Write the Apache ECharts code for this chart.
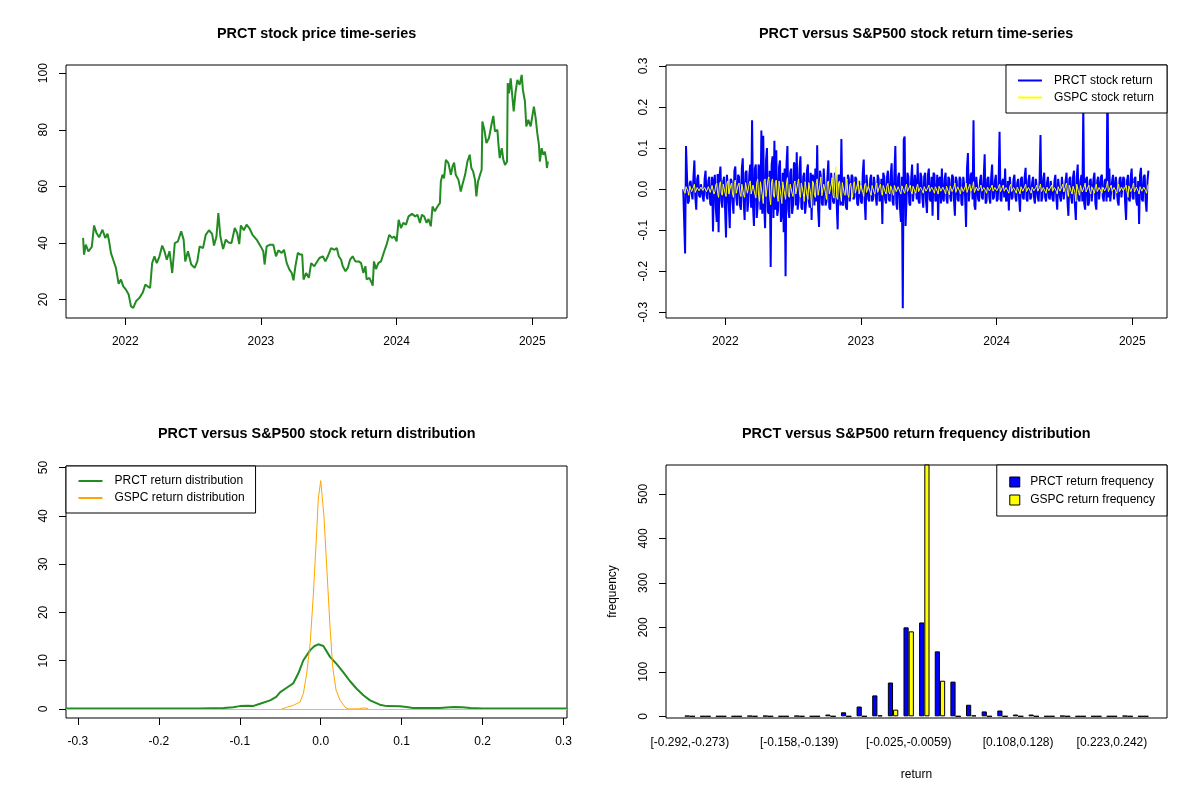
<!DOCTYPE html>
<html>
<head>
<meta charset="utf-8">
<script src="https://cdn.jsdelivr.net/npm/echarts@6/dist/echarts.min.js"></script>
<style>html,body{margin:0;padding:0;background:#fff}#c{width:1200px;height:800px}</style>
</head>
<body>
<div id="c"></div>
<script>
const FONT = '"Liberation Sans", Arial, sans-serif';

// ---------- Panel 1: PRCT price (time in decimal years) ----------
const priceYear = [
2021.689,2021.696,2021.709,2021.728,2021.753,2021.770,2021.788,2021.807,2021.832,2021.852,
2021.869,2021.881,2021.894,2021.911,2021.931,2021.951,2021.968,2021.985,2022.005,2022.025,
2022.042,2022.059,2022.079,2022.104,2022.128,2022.148,2022.165,2022.183,2022.198,2022.215,
2022.232,2022.252,2022.272,2022.289,2022.306,2022.326,2022.346,2022.365,2022.388,2022.412,
2022.430,2022.442,2022.462,2022.486,2022.511,2022.531,2022.548,2022.573,2022.593,2022.617,
2022.640,2022.654,2022.672,2022.686,2022.701,2022.721,2022.741,2022.760,2022.783,2022.807,
2022.825,2022.840,2022.852,2022.874,2022.894,2022.914,2022.938,2022.968,2022.998,2023.017,
2023.027,2023.042,2023.067,2023.091,2023.111,2023.128,2023.153,2023.170,2023.190,2023.210,
2023.227,2023.240,2023.254,2023.272,2023.289,2023.304,2023.314,2023.333,2023.353,2023.370,
2023.393,2023.431,2023.456,2023.475,2023.493,2023.517,2023.542,2023.559,2023.574,2023.591,
2023.603,2023.623,2023.640,2023.657,2023.676,2023.696,2023.721,2023.738,2023.755,2023.770,
2023.779,2023.799,2023.811,2023.824,2023.833,2023.848,2023.865,2023.885,2023.897,2023.909,
2023.926,2023.946,2023.966,2023.983,2024.000,2024.015,2024.032,2024.049,2024.069,2024.088,
2024.113,2024.137,2024.154,2024.172,2024.186,2024.203,2024.221,2024.235,2024.252,2024.265,
2024.282,2024.301,2024.319,2024.326,2024.338,2024.350,2024.363,2024.382,2024.400,2024.412,
2024.424,2024.436,2024.456,2024.473,2024.485,2024.505,2024.522,2024.539,2024.551,2024.564,
2024.578,2024.588,2024.600,2024.615,2024.627,2024.632,2024.647,2024.662,2024.681,2024.699,
2024.713,2024.725,2024.743,2024.750,2024.760,2024.775,2024.787,2024.799,2024.814,2024.819,
2024.828,2024.841,2024.853,2024.863,2024.877,2024.890,2024.907,2024.922,2024.931,2024.946,
2024.956,2024.971,2024.988,2025.000,2025.012,2025.025,2025.037,2025.049,2025.056,2025.069,
2025.081,2025.093,2025.103,2025.108,2025.115];
const priceClose = [
41.8,35.9,39.4,37.0,38.6,46.2,43.5,42.0,44.7,41.8,
43.3,40.6,36.5,34.1,31.2,25.6,27.1,24.7,23.5,21.8,
17.6,17.1,19.4,20.6,22.4,25.3,24.7,24.1,32.9,35.3,
32.9,35.3,39.1,37.1,34.1,37.1,29.4,40.0,40.6,44.1,
41.2,33.5,37.1,32.4,31.2,33.5,38.8,38.2,42.9,44.5,
43.2,39.1,42.3,50.6,42.3,37.9,41.2,40.2,40.0,45.3,
43.5,39.6,46.2,44.5,46.5,45.3,42.9,41.2,38.8,37.1,
32.4,38.8,39.4,39.4,35.3,37.4,36.5,37.6,32.9,30.6,
29.4,26.8,31.8,36.5,35.9,35.9,27.1,29.4,27.7,32.9,
31.8,34.7,35.3,33.5,35.3,38.2,37.6,38.2,35.3,34.1,
31.8,30.0,31.2,34.1,35.3,33.5,33.5,32.9,29.4,31.8,
27.1,27.7,26.5,24.9,33.5,30.8,32.9,33.5,35.3,37.1,
39.4,42.9,41.8,42.3,40.6,48.2,45.3,47.1,46.5,49.4,
50.3,49.4,50.0,47.1,50.0,49.4,47.1,48.5,45.9,52.9,
51.2,52.9,54.1,61.7,64.1,62.9,69.4,68.2,64.1,67.0,
68.4,64.1,62.3,58.2,60.6,64.1,68.8,71.2,66.5,65.3,
62.3,56.5,61.7,64.1,65.9,82.9,80.0,75.3,77.1,81.8,
84.9,79.4,80.0,75.3,70.0,73.5,69.4,67.6,68.8,96.5,
92.9,98.2,98.8,86.5,93.5,97.6,95.9,99.4,94.1,90.0,
81.2,83.5,81.2,84.7,88.2,84.1,78.8,74.7,68.8,73.5,
71.2,72.3,69.4,66.5,68.8];
const yearTicks = [2022, 2023, 2024, 2025];
const priceTicks = [20, 40, 60, 80, 100];

// ---------- Panel 2: returns (observations evenly spread over the period) ----------
const retStartYear = 2021.690, retEndYear = 2025.119;
const prctReturn = [
0.0,0.002,-0.157,0.105,0.108,-0.035,-0.03,0.015,0.02,-0.01,-0.025,0.03,0.07,-0.02,-0.05,0.025,0.035,-0.015,-0.02,0.012,
0.01,-0.02,-0.03,0.025,0.045,-0.015,-0.025,0.02,0.03,-0.035,-0.04,0.03,-0.103,0.02,0.035,-0.045,-0.08,0.037,-0.105,0.03,
0.055,-0.03,-0.045,0.02,0.03,-0.05,-0.118,0.035,0.035,-0.04,-0.095,0.025,0.02,-0.03,-0.06,0.045,0.055,-0.02,-0.04,0.035,
0.03,-0.04,-0.05,0.05,0.075,-0.03,-0.075,0.04,0.045,-0.055,-0.03,0.035,0.06,-0.045,0.168,-0.04,-0.09,0.05,0.06,-0.07,
-0.04,0.06,0.05,-0.05,0.143,-0.06,0.13,-0.04,-0.095,0.07,0.1,-0.055,-0.06,0.045,-0.19,0.06,0.08,-0.07,0.118,-0.05,
0.095,-0.065,-0.05,0.055,0.07,-0.08,-0.06,0.04,-0.105,0.05,-0.212,0.06,0.105,-0.05,-0.07,0.04,0.05,-0.06,-0.04,0.065,
0.06,-0.04,0.09,-0.05,-0.03,0.05,0.08,-0.045,-0.05,0.03,0.04,-0.06,-0.035,0.045,0.06,-0.03,-0.045,0.04,-0.075,0.035,
0.03,-0.04,0.05,-0.03,0.107,-0.05,-0.092,0.045,0.03,-0.035,-0.04,0.05,0.05,-0.04,-0.03,0.03,0.07,-0.045,-0.05,0.04,
0.04,-0.03,-0.035,0.04,0.02,-0.04,-0.098,0.035,0.03,-0.04,0.122,-0.035,-0.04,0.03,0.03,-0.045,-0.05,0.035,0.025,-0.03,
-0.03,0.035,0.03,-0.025,-0.02,0.03,0.025,-0.035,-0.04,0.02,0.02,-0.03,-0.035,0.04,0.072,-0.03,-0.075,0.035,0.035,-0.025,
-0.03,0.025,0.035,-0.03,-0.025,0.03,0.03,-0.02,-0.04,0.035,0.025,-0.03,-0.02,0.025,-0.085,0.04,0.03,-0.025,-0.035,0.03,
0.045,-0.025,-0.03,0.035,0.063,-0.03,-0.04,0.04,0.105,-0.035,-0.05,0.03,0.04,-0.045,-0.08,0.03,-0.29,0.12,0.128,-0.09,
-0.09,0.04,0.03,-0.035,-0.04,0.025,0.06,-0.03,-0.03,0.035,0.035,-0.025,0.063,-0.03,-0.035,0.04,0.03,-0.02,-0.045,0.03,
0.04,-0.03,-0.058,0.035,0.05,-0.025,-0.03,0.03,-0.065,0.04,0.035,-0.03,-0.025,0.035,-0.075,0.025,0.03,-0.035,0.05,-0.02,
-0.03,0.025,0.04,-0.025,-0.035,0.03,0.025,-0.02,-0.03,0.035,0.03,-0.025,-0.065,0.03,0.02,-0.025,-0.03,0.03,0.025,-0.035,
-0.04,0.03,0.01,-0.02,-0.092,0.05,0.088,-0.03,-0.03,0.035,0.04,-0.025,0.168,-0.04,-0.05,0.03,0.03,-0.025,-0.03,0.02,
0.035,-0.02,-0.025,0.03,0.085,-0.035,-0.03,0.025,0.03,-0.02,-0.035,0.03,0.06,-0.025,-0.02,0.02,0.035,-0.03,-0.025,0.02,
0.14,-0.025,-0.03,0.02,0.025,-0.02,0.05,-0.03,-0.025,0.02,-0.052,0.03,0.03,-0.025,-0.02,0.025,0.035,-0.02,-0.03,0.015,
0.025,-0.02,-0.055,0.025,0.03,-0.02,-0.025,0.03,0.052,-0.025,-0.03,0.02,0.035,-0.025,-0.02,0.015,0.03,-0.02,-0.035,0.025,
0.025,-0.02,-0.03,0.02,0.132,-0.03,-0.02,0.025,0.04,-0.02,-0.03,0.015,0.03,-0.02,-0.025,0.02,0.02,-0.025,-0.03,0.02,
0.035,-0.02,-0.05,0.025,0.025,-0.02,-0.03,0.03,0.03,-0.025,-0.025,0.02,0.04,-0.03,-0.065,0.025,0.03,-0.02,-0.035,0.03,
0.045,-0.04,-0.075,0.03,0.06,-0.025,-0.03,0.02,0.035,-0.03,0.2,-0.035,-0.05,0.025,0.03,-0.04,-0.035,0.02,0.025,-0.03,
-0.03,0.025,0.04,-0.035,-0.05,0.02,0.03,-0.025,-0.025,0.03,0.035,-0.02,-0.03,0.02,0.025,-0.03,0.281,-0.02,0.05,-0.03,
-0.03,0.02,0.035,-0.025,-0.025,0.03,0.03,-0.03,-0.04,0.025,0.03,-0.02,-0.02,0.03,0.025,-0.035,-0.075,0.02,0.035,-0.025,
-0.03,0.03,0.05,-0.02,-0.025,0.025,0.03,-0.03,-0.04,0.02,-0.085,0.035,0.052,-0.025,-0.03,0.03,0.035,-0.03,-0.055,0.02,0.045];
const gspcReturn = [
0.0,0.004,-0.01,0.006,0.008,-0.005,-0.015,0.008,0.01,-0.006,-0.008,0.005,0.012,-0.008,-0.005,0.004,0.008,-0.004,-0.006,0.005,
0.006,-0.003,-0.004,0.004,0.005,-0.006,-0.008,0.006,0.01,-0.008,-0.012,0.009,0.01,-0.012,-0.006,0.01,0.015,-0.01,-0.02,0.012,
0.018,-0.01,-0.015,0.012,0.012,-0.01,-0.018,0.015,0.02,-0.012,-0.01,0.008,0.015,-0.012,-0.02,0.014,0.022,-0.01,-0.012,0.01,
0.015,-0.01,-0.018,0.012,0.012,-0.014,-0.02,0.016,0.018,-0.01,-0.012,0.014,0.02,-0.012,-0.015,0.01,0.01,-0.012,-0.022,0.015,
0.025,-0.015,-0.03,0.018,0.02,-0.015,-0.035,0.02,0.025,-0.018,-0.02,0.022,0.03,-0.02,-0.038,0.018,0.025,-0.015,-0.02,0.016,
0.022,-0.015,-0.03,0.02,0.02,-0.016,-0.035,0.018,0.015,-0.012,-0.025,0.015,0.028,-0.014,-0.02,0.012,0.015,-0.01,-0.018,0.012,
0.02,-0.012,-0.015,0.014,0.025,-0.012,-0.02,0.015,0.015,-0.01,-0.03,0.018,0.02,-0.015,-0.025,0.016,0.018,-0.012,-0.045,0.02,
0.015,-0.012,-0.02,0.014,0.025,-0.015,-0.018,0.012,0.03,-0.016,-0.02,0.012,0.015,-0.01,-0.025,0.015,0.02,-0.012,-0.015,0.01,
0.028,-0.015,-0.022,0.02,0.055,-0.02,-0.025,0.015,0.02,-0.012,-0.03,0.016,0.02,-0.01,-0.015,0.012,0.025,-0.014,-0.02,0.01,
0.015,-0.01,-0.02,0.012,0.018,-0.01,-0.012,0.01,0.022,-0.012,-0.015,0.01,0.012,-0.008,-0.018,0.01,0.015,-0.008,-0.012,0.008,
0.012,-0.008,-0.015,0.009,0.01,-0.007,-0.012,0.008,0.015,-0.008,-0.01,0.007,0.012,-0.008,-0.015,0.009,0.01,-0.006,-0.012,0.008,
0.014,-0.007,-0.012,0.008,0.01,-0.006,-0.015,0.009,0.012,-0.006,-0.008,0.006,0.01,-0.007,-0.012,0.008,0.008,-0.005,-0.01,0.006,
0.012,-0.006,-0.008,0.005,0.01,-0.006,-0.012,0.007,0.008,-0.005,-0.01,0.006,0.012,-0.006,-0.008,0.005,0.006,-0.004,-0.01,0.006,
0.008,-0.005,-0.006,0.004,0.01,-0.006,-0.008,0.005,0.006,-0.004,-0.01,0.006,0.008,-0.005,-0.012,0.007,0.01,-0.005,-0.008,0.005,
0.008,-0.005,-0.012,0.007,0.01,-0.006,-0.014,0.008,0.012,-0.006,-0.008,0.005,0.015,-0.008,-0.01,0.006,0.008,-0.005,-0.012,0.006,
0.01,-0.006,-0.008,0.005,0.015,-0.008,-0.01,0.006,0.012,-0.005,-0.006,0.004,0.018,-0.008,-0.01,0.005,0.008,-0.004,-0.006,0.004,
0.01,-0.005,-0.008,0.004,0.006,-0.004,-0.01,0.005,0.008,-0.004,-0.005,0.004,0.01,-0.005,-0.006,0.004,0.008,-0.004,-0.008,0.005,
0.012,-0.006,-0.008,0.005,0.01,-0.005,-0.006,0.004,0.008,-0.005,-0.01,0.006,0.012,-0.006,-0.008,0.004,0.006,-0.004,-0.01,0.005,
0.008,-0.005,-0.012,0.006,0.01,-0.005,-0.008,0.005,0.012,-0.006,-0.006,0.004,0.008,-0.005,-0.01,0.005,0.006,-0.004,-0.008,0.004,
0.01,-0.005,-0.008,0.004,0.012,-0.006,-0.006,0.004,0.008,-0.005,-0.01,0.005,0.006,-0.004,-0.008,0.005,0.01,-0.005,-0.006,0.004,
0.008,-0.005,-0.012,0.006,0.01,-0.005,-0.008,0.006,0.012,-0.007,-0.01,0.008,0.015,-0.008,-0.018,0.01,0.01,-0.006,-0.012,0.007,
0.01,-0.008,-0.03,0.012,0.012,-0.008,-0.015,0.009,0.012,-0.007,-0.01,0.006,0.015,-0.007,-0.008,0.005,0.01,-0.006,-0.012,0.006,
0.008,-0.005,-0.01,0.006,0.012,-0.006,-0.006,0.004,0.008,-0.005,-0.01,0.005,0.006,-0.004,-0.008,0.006,0.02,-0.006,-0.008,0.005,
0.01,-0.005,-0.008,0.004,0.006,-0.005,-0.01,0.006,0.012,-0.006,-0.008,0.005,0.008,-0.004,-0.006,0.005,0.01,-0.006,-0.02,0.008,
0.012,-0.006,-0.008,0.006,0.015,-0.007,-0.01,0.005,0.008,-0.005,-0.012,0.006,0.01,-0.005,-0.008,0.005,0.006,-0.004,-0.01,0.006,0.012];
const returnTicks = [-0.3, -0.2, -0.1, 0, 0.1, 0.2, 0.3];

// ---------- Panel 3: return densities ----------
const prctDensX = [-0.3147,-0.2,-0.15,-0.12,-0.108,-0.1,-0.09,-0.083,-0.075,-0.0625,
-0.055,-0.05,-0.042,-0.034,-0.0276,-0.0214,-0.013,-0.008,-0.003,0.0033,
0.0115,0.0198,0.028,0.036,0.0444,0.0527,0.061,0.073,0.0815,0.098,
0.106,0.114,0.13,0.147,0.155,0.165,0.175,0.185,0.2,0.3043];
const prctDensY = [0.1,0.1,0.12,0.2,0.35,0.6,0.7,0.65,1.1,1.8,
2.5,3.5,4.4,5.3,7.4,10.1,12.2,13.0,13.4,13.05,
10.8,9.3,7.6,5.8,4.2,2.85,1.8,0.9,0.6,0.55,
0.4,0.2,0.2,0.2,0.3,0.4,0.35,0.2,0.12,0.1];
const gspcDensX = [-0.048,-0.042,-0.034,-0.0255,-0.0214,-0.0173,-0.013,-0.009,-0.005,-0.003,
0.0,0.0012,0.004,0.0074,0.0115,0.0148,0.019,0.024,0.030,0.034,
0.040,0.048,0.051,0.056,0.059];
const gspcDensY = [0,0.35,0.75,1.45,3.2,7.4,13.6,24,36.5,43.5,
47.3,47,40,29.6,17,8.75,3.9,1.8,0.4,0.02,
0.01,0.05,0.2,0.2,0.02];
const densXTicks = [-0.3, -0.2, -0.1, 0, 0.1, 0.2, 0.3];
const densYTicks = [0, 10, 20, 30, 40, 50];

// ---------- Panel 4: return frequency ----------
const binLabels = ["[-0.292,-0.273)","[-0.273,-0.254)","[-0.254,-0.235)","[-0.235,-0.216)","[-0.216,-0.197)",
"[-0.197,-0.177)","[-0.177,-0.158)","[-0.158,-0.139)","[-0.139,-0.12)","[-0.12,-0.101)",
"[-0.101,-0.082)","[-0.082,-0.063)","[-0.063,-0.044)","[-0.044,-0.025)","[-0.025,-0.0059)",
"[-0.0059,0.0132)","[0.0132,0.0323)","[0.0323,0.0514)","[0.0514,0.0704)","[0.0704,0.0895)",
"[0.0895,0.108)","[0.108,0.128)","[0.128,0.147)","[0.147,0.166)","[0.166,0.185)",
"[0.185,0.204)","[0.204,0.223)","[0.223,0.242)","[0.242,0.261)","[0.261,0.281]"];
const shownBinLabels = [0, 7, 14, 21, 27];
const prctFreq = [1,0,0,0,1,1,0,1,0,4,9,22,47,76,200,211,146,78,26,11,13,4,4,0,1,0,0,0,1,0];
const gspcFreq = [0,0,0,0,0,0,0,0,0,0,0,0,2,15,191,567,80,0,2,0,0,0,0,0,0,0,0,0,0,0];
const freqTicks = [0, 100, 200, 300, 400, 500];

// ---------- build ----------
const zip = (a, b) => a.map((v, i) => [v, b[i]]);
const retYear = prctReturn.map((_, i) => retStartYear + i * (retEndYear - retStartYear) / (prctReturn.length - 1));

const txt = { color: '#000', fontSize: 12, fontFamily: FONT };
function titleLeft(text, cx) {
  const ctx = document.createElement('canvas').getContext('2d');
  ctx.font = 'bold 14.4px "Liberation Sans"';
  return Math.round(cx - ctx.measureText(text).width / 2);
}
function mkTitle(text, cx, top) {
  return { text, left: titleLeft(text, cx), top, padding: 0,
    textStyle: { fontSize: 14.4, fontWeight: 'bold', color: '#000', fontFamily: FONT } };
}
function box(left, top, width, height) {
  return { left, top, width, height, show: true, borderColor: '#000', borderWidth: 1,
    backgroundColor: 'transparent', containLabel: false };
}
function xVal(grid, min, max, ticks, fmt) {
  return { type: 'value', gridIndex: grid, min, max, splitLine: { show: false },
    axisLine: { show: false, onZero: false },
    axisTick: { show: true, inside: false, length: 7, customValues: ticks, lineStyle: { color: '#000', width: 1 } },
    axisLabel: Object.assign({ customValues: ticks, margin: 18, formatter: fmt }, txt) };
}
function yVal(grid, min, max, ticks, fmt) {
  return { type: 'value', gridIndex: grid, min, max, splitLine: { show: false },
    axisLine: { show: false, onZero: false },
    axisTick: { show: true, inside: false, length: 7, customValues: ticks, lineStyle: { color: '#000', width: 1 } },
    axisLabel: Object.assign({ customValues: ticks, margin: 16, rotate: 90, formatter: fmt }, txt) };
}
const yr = v => String(Math.round(v));
const f1 = v => v.toFixed(1);
const f0 = v => String(Math.round(v));

const lineLegend = (extra) => Object.assign({
  orient: 'vertical', itemWidth: 24, itemHeight: 12, itemGap: 5,
  backgroundColor: '#fff', borderColor: '#000', borderWidth: 1, borderRadius: 0,
  selectedMode: false, itemStyle: { opacity: 0 },
  textStyle: Object.assign({ padding: [0, 0, 0, 7] }, txt)
}, extra);

const option = {
  animation: false,
  backgroundColor: '#fff',
  title: [
    mkTitle('PRCT stock price time-series', 316.5, 27),
    mkTitle('PRCT versus S&P500 stock return time-series', 916.5, 27),
    mkTitle('PRCT versus S&P500 stock return distribution', 316.5, 427),
    mkTitle('PRCT versus S&P500 return frequency distribution', 916.5, 427)
  ],
  grid: [
    box(66, 65, 501, 253),
    box(666, 65, 501, 253),
    box(66, 466, 501, 252),
    { left: 682, top: 465, width: 469, height: 253, show: false, containLabel: false },
    box(666, 465, 501, 253)
  ],
  xAxis: [
    xVal(0, 2021.563, 2025.256, yearTicks, yr),
    xVal(1, 2021.563, 2025.256, yearTicks, yr),
    xVal(2, -0.3147, 0.3043, densXTicks, f1),
    { type: 'category', gridIndex: 3, data: binLabels, boundaryGap: true,
      axisLine: { show: false, onZero: false }, axisTick: { show: false }, splitLine: { show: false },
      axisLabel: Object.assign({ interval: (i) => shownBinLabels.indexOf(i) >= 0, margin: 19 }, txt),
      name: 'return', nameLocation: 'middle', nameGap: 51, nameTextStyle: txt },
    { type: 'value', gridIndex: 4, min: 0, max: 1, show: false }
  ],
  yAxis: [
    yVal(0, 13.5, 102.9, priceTicks, f0),
    yVal(1, -0.314, 0.3025, returnTicks, f1),
    yVal(2, -1.86, 50.33, densYTicks, f0),
    Object.assign(yVal(3, -3.8, 565, freqTicks, f0), {
      offset: 16, name: 'frequency', nameLocation: 'middle', nameGap: 47, nameRotate: 90, nameTextStyle: txt }),
    { type: 'value', gridIndex: 4, min: 0, max: 1, show: false }
  ],
  legend: [
    lineLegend({ data: ['PRCT stock return', 'GSPC stock return'], right: 33, top: 65, padding: [9.5, 13, 9.5, 11] }),
    lineLegend({ data: ['PRCT return distribution', 'GSPC return distribution'], left: 66, top: 466, padding: [9, 11, 9, 11.5] }),
    { data: ['PRCT return frequency', 'GSPC return frequency'], right: 33, top: 465,
      orient: 'vertical', icon: 'rect', itemWidth: 10, itemHeight: 10, itemGap: 6,
      padding: [11, 12, 10, 12.5], backgroundColor: '#fff', borderColor: '#000', borderWidth: 1, borderRadius: 0,
      selectedMode: false, itemStyle: { borderColor: '#000', borderWidth: 1 },
      textStyle: Object.assign({ padding: [0, 0, 0, 5.5] }, txt) }
  ],
  series: [
    { name: 'PRCT price', type: 'line', xAxisIndex: 0, yAxisIndex: 0, data: zip(priceYear, priceClose),
      symbol: 'none', lineStyle: { color: '#228B22', width: 2 }, itemStyle: { color: '#228B22' } },
    { name: 'PRCT stock return', type: 'line', xAxisIndex: 1, yAxisIndex: 1, data: zip(retYear, prctReturn),
      symbol: 'none', lineStyle: { color: '#0000FF', width: 2 }, itemStyle: { color: '#0000FF' } },
    { name: 'GSPC stock return', type: 'line', xAxisIndex: 1, yAxisIndex: 1, data: zip(retYear, gspcReturn),
      symbol: 'none', lineStyle: { color: '#FFFF00', width: 1 }, itemStyle: { color: '#FFFF00' } },
    { name: 'PRCT return distribution', type: 'line', xAxisIndex: 2, yAxisIndex: 2, data: zip(prctDensX, prctDensY),
      symbol: 'none', lineStyle: { color: '#228B22', width: 2 }, itemStyle: { color: '#228B22' },
      markLine: { silent: true, symbol: ['none', 'none'], label: { show: false },
        lineStyle: { color: '#BEBEBE', width: 1, type: 'solid' }, data: [{ yAxis: 0 }] } },
    { name: 'GSPC return distribution', type: 'line', xAxisIndex: 2, yAxisIndex: 2, data: zip(gspcDensX, gspcDensY),
      symbol: 'none', lineStyle: { color: '#FFA500', width: 1 }, itemStyle: { color: '#FFA500' } },
    { name: 'PRCT return frequency', type: 'bar', xAxisIndex: 3, yAxisIndex: 3, data: prctFreq,
      barWidth: 5.2, barGap: '0%', clip: true,
      itemStyle: { color: '#0000FF', borderColor: '#000', borderWidth: 1 } },
    { name: 'GSPC return frequency', type: 'bar', xAxisIndex: 3, yAxisIndex: 3, data: gspcFreq,
      barWidth: 5.2, barGap: '0%', clip: true,
      itemStyle: { color: '#FFFF00', borderColor: '#000', borderWidth: 1 } }
  ]
};
const chart = echarts.init(document.getElementById('c'), null, { renderer: 'canvas', width: 1200, height: 800 });
chart.setOption(option);
</script>
</body>
</html>
